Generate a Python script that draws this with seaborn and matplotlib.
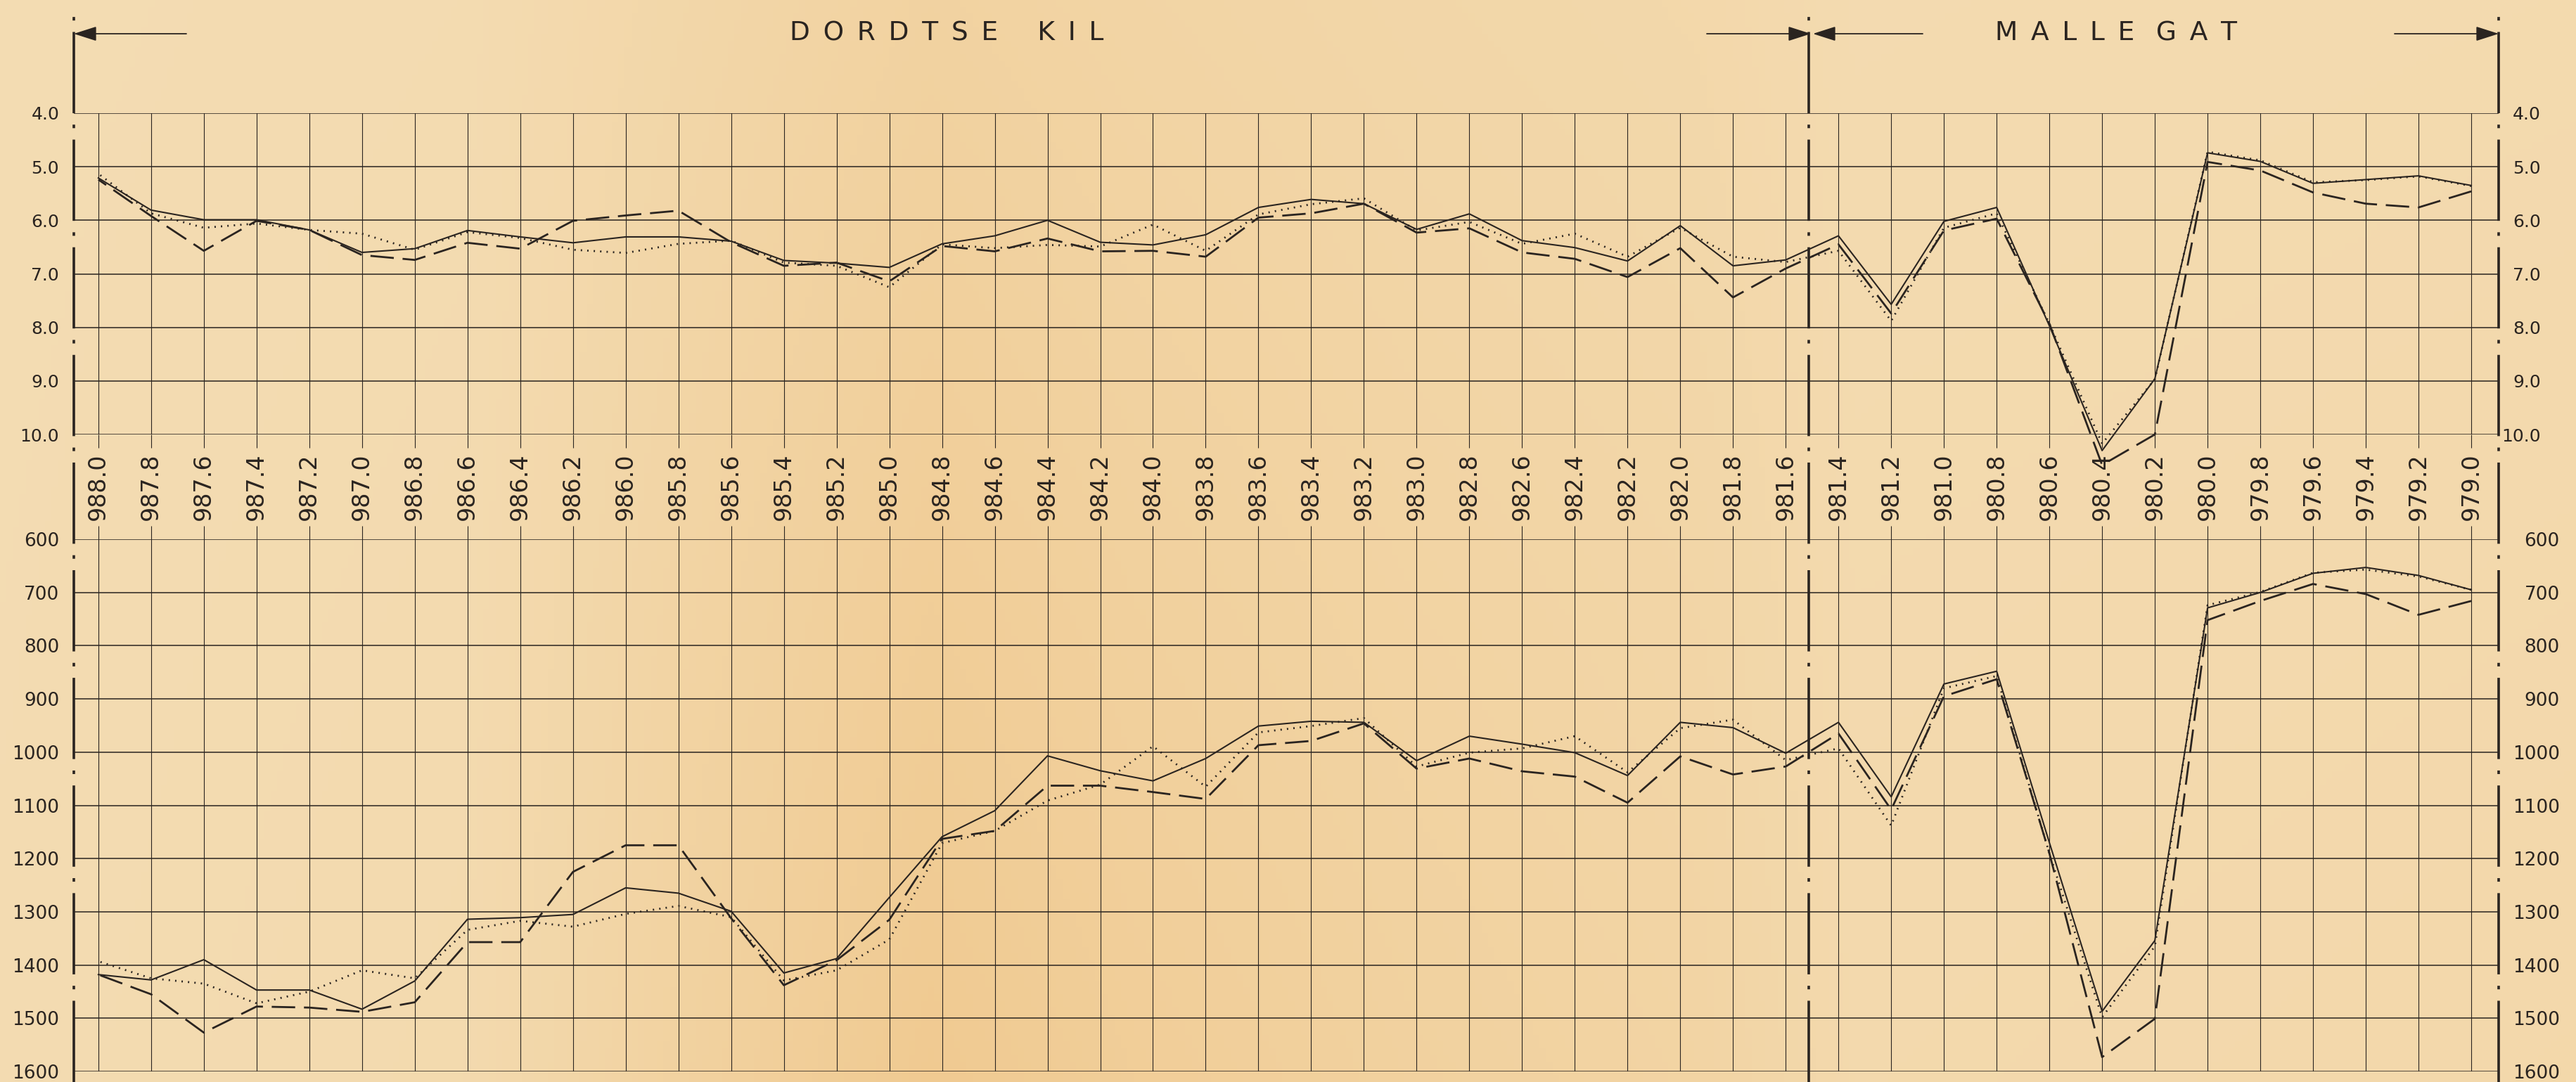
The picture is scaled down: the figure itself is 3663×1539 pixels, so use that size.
import numpy as np
import pandas as pd
import matplotlib
matplotlib.use("Agg")
import matplotlib.pyplot as plt
from matplotlib.lines import Line2D
from matplotlib.transforms import blended_transform_factory
import seaborn as sns

# river km (Dordtse Kil -> Mallegat)
km = [988.0, 987.8, 987.6, 987.4, 987.2, 987.0, 986.8, 986.6, 986.4, 986.2,
      986.0, 985.8, 985.6, 985.4, 985.2, 985.0, 984.8, 984.6, 984.4, 984.2,
      984.0, 983.8, 983.6, 983.4, 983.2, 983.0, 982.8, 982.6, 982.4, 982.2,
      982.0, 981.8, 981.6, 981.4, 981.2, 981.0, 980.8, 980.6, 980.4, 980.2,
      980.0, 979.8, 979.6, 979.4, 979.2, 979.0]
km_labels = ["988.0", "987.8", "987.6", "987.4", "987.2", "987.0", "986.8", "986.6", "986.4", "986.2",
             "986.0", "985.8", "985.6", "985.4", "985.2", "985.0", "984.8", "984.6", "984.4", "984.2",
             "984.0", "983.8", "983.6", "983.4", "983.2", "983.0", "982.8", "982.6", "982.4", "982.2",
             "982.0", "981.8", "981.6", "981.4", "981.2", "981.0", "980.8", "980.6", "980.4", "980.2",
             "980.0", "979.8", "979.6", "979.4", "979.2", "979.0"]

# upper panel (depth)
depth_solid = [5.21, 5.81, 5.99, 5.99, 6.18, 6.60, 6.53, 6.19, 6.31, 6.42,
               6.31, 6.31, 6.39, 6.75, 6.80, 6.88, 6.44, 6.29, 6.00, 6.41,
               6.46, 6.27, 5.76, 5.61, 5.69, 6.17, 5.88, 6.38, 6.51, 6.76,
               6.10, 6.85, 6.74, 6.29, 7.57, 6.02, 5.76, 7.97, 10.30, 8.96,
               4.74, 4.90, 5.31, 5.24, 5.17, 5.35]
depth_dashed = [5.24, 5.92, 6.57, 6.01, 6.18, 6.65, 6.74, 6.42, 6.53, 6.01,
                5.91, 5.82, 6.41, 6.85, 6.79, 7.14, 6.48, 6.58, 6.34, 6.58,
                6.57, 6.68, 5.95, 5.87, 5.69, 6.23, 6.15, 6.60, 6.72, 7.06,
                6.52, 7.44, 6.90, 6.45, 7.74, 6.19, 5.97, 7.93, 10.57, 10.00,
                4.91, 5.07, 5.48, 5.69, 5.76, 5.46]
depth_dotted = [5.13, 5.87, 6.14, 6.06, 6.18, 6.25, 6.55, 6.22, 6.33, 6.55,
                6.61, 6.44, 6.38, 6.79, 6.85, 7.25, 6.45, 6.52, 6.46, 6.49,
                6.08, 6.57, 5.89, 5.70, 5.59, 6.19, 6.03, 6.44, 6.25, 6.68,
                6.14, 6.68, 6.78, 6.57, 7.88, 6.14, 5.87, 7.93, 10.17, 8.97,
                4.72, 4.88, 5.29, 5.25, 5.18, 5.36]

# lower panel
area_solid = [1418, 1428, 1390, 1447, 1447, 1483, 1430, 1314, 1311, 1305,
              1255, 1265, 1299, 1415, 1388, 1273, 1159, 1110, 1007, 1035,
              1054, 1012, 951, 942, 944, 1016, 970, 985, 1001, 1044,
              944, 954, 1002, 944, 1084, 872, 848, 1170, 1487, 1354,
              729, 700, 664, 653, 668, 695]
area_dashed = [1418, 1455, 1527, 1478, 1480, 1488, 1470, 1357, 1357, 1225,
               1175, 1175, 1312, 1438, 1391, 1315, 1163, 1148, 1063, 1063,
               1075, 1088, 987, 979, 946, 1031, 1012, 1036, 1046, 1095,
               1008, 1042, 1027, 965, 1108, 895, 863, 1190, 1573, 1501,
               752, 716, 684, 703, 742, 716]
area_dotted = [1393, 1425, 1435, 1472, 1450, 1410, 1425, 1334, 1317, 1328,
               1304, 1289, 1310, 1429, 1410, 1352, 1171, 1148, 1091, 1061,
               989, 1065, 963, 951, 936, 1027, 1001, 993, 970, 1038,
               955, 939, 1015, 993, 1138, 880, 857, 1190, 1498, 1365,
               724, 699, 663, 657, 670, 695]

depth_ticks = [4, 5, 6, 7, 8, 9, 10]
depth_ticklabels = ["4.0", "5.0", "6.0", "7.0", "8.0", "9.0", "10.0"]
area_ticks = [600, 700, 800, 900, 1000, 1100, 1200, 1300, 1400, 1500, 1600]
area_ticklabels = ["600", "700", "800", "900", "1000", "1100", "1200", "1300", "1400", "1500", "1600"]

EN = "\u2002"
sections = [EN.join("DORDTSE") + EN * 3 + EN.join("KIL"),
            EN.join("MALLE") + EN + " " + EN.join("GAT")]
divider_km = 981.513
x_left, x_right = 988.093, 978.896

ink = "#2a2420"
paper_light = np.array([244, 221, 180]) / 255
paper_warm = np.array([239, 196, 134]) / 255

W, H = 3663, 1539


def rect(x0, y0, x1, y1):
    # pixel box (origin top-left) -> figure fraction rect
    return [x0 / W, 1 - y1 / H, (x1 - x0) / W, (y1 - y0) / H]


fig = plt.figure(figsize=(W / 100, H / 100), dpi=100)

# aged paper: warmer band in the middle, a bit stronger towards the bottom
gx = np.linspace(0, 1, 400)
gy = np.linspace(0, 1, 160)
wx = np.interp(gx, [0, 0.18, 0.27, 0.36, 0.44, 0.55, 0.66, 0.72, 1],
               [0.05, 0.12, 0.45, 0.75, 0.6, 0.45, 0.35, 0.15, 0.2])
wy = np.interp(gy, [0, 1], [0.55, 1.0])
wgt = (wy[:, None] * wx[None, :])[..., None]
paper_img = paper_light * (1 - wgt) + paper_warm * wgt

bg = fig.add_axes([0, 0, 1, 1])
bg.imshow(paper_img, aspect="auto", extent=[0, 1, 0, 1], origin="upper")
bg.axis("off")

X0, X1 = 105, 3553
ax_top = fig.add_axes(rect(X0, 161, X1, 618))
ax_mid = fig.add_axes(rect(X0, 618, X1, 767))
ax_bot = fig.add_axes(rect(X0, 767, X1, 1524))

top_df = pd.DataFrame({"km": km, "solid": depth_solid, "dashed": depth_dashed, "dotted": depth_dotted})
bot_df = pd.DataFrame({"km": km, "solid": area_solid, "dashed": area_dashed, "dotted": area_dotted})

for ax, df in [(ax_top, top_df), (ax_bot, bot_df)]:
    sns.lineplot(data=df, x="km", y="solid", ax=ax, color=ink, linewidth=1.5, errorbar=None)
    sns.lineplot(data=df, x="km", y="dashed", ax=ax, color=ink, linewidth=2.0,
                 linestyle=(0, (12, 4.5)), errorbar=None)
    sns.lineplot(data=df, x="km", y="dotted", ax=ax, color=ink, linewidth=2.0,
                 linestyle=(0, (0.7, 2.6)), errorbar=None)
    for ln in ax.lines:
        ln.set_clip_on(False)
    ax.set_xlabel("")
    ax.set_ylabel("")

for ax in (ax_top, ax_mid, ax_bot):
    ax.set_facecolor("none")
    ax.set_xlim(x_left, x_right)
    for s in ax.spines.values():
        s.set_visible(False)
    ax.set_xticks(km)
    ax.tick_params(length=0, labelbottom=False)

for ax in (ax_top, ax_bot):
    ax.grid(axis="x", color=ink, linewidth=0.8)
    ax.grid(axis="y", color=ink, linewidth=1.1)
    ax.set_axisbelow(True)

ax_top.set_ylim(10, 4)
ax_top.set_yticks(depth_ticks)
ax_top.set_yticklabels(depth_ticklabels)
ax_bot.set_ylim(1600, 600)
ax_bot.set_yticks(area_ticks)
ax_bot.set_yticklabels(area_ticklabels)

for ax, fs, rpad in [(ax_top, 18, 60), (ax_bot, 19, 87)]:
    ax.tick_params(axis="y", labelleft=True, labelright=True, labelsize=fs,
                   labelcolor=ink, pad=15)
    for t in ax.yaxis.get_major_ticks():
        t.label2.set_horizontalalignment("right")
        t.label2.set_x(1 + (rpad - 21) / (X1 - X0))

# km labels in the strip between the panels
ax_mid.set_ylim(0, 1)
ax_mid.set_yticks([])
ax_mid.vlines(km, 0, 0.13, color=ink, linewidth=0.8)
ax_mid.vlines(km, 0.87, 1, color=ink, linewidth=0.8)
for k, lab in zip(km, km_labels):
    ax_mid.text(k, 0.5, lab, rotation=90, ha="center", va="center",
                fontsize=24, color=ink)

# section borders (dash-dot)
trans = blended_transform_factory(ax_top.transData, fig.transFigure)
border_ls = (0, (32, 4.5, 1.4, 4.5))
for xb, ytop in [(x_left, 8), (divider_km, 18), (x_right, 12)]:
    fig.add_artist(Line2D([xb, xb], [0, 1 - ytop / H], transform=trans, color=ink,
                          linewidth=2.6, linestyle=border_ls))

# section arrows and titles
arrow_y = 1 - 48 / H
for xs, xe in [(265, 105), (2427, 2575), (2734, 2578), (3405, 3553)]:
    bg.annotate("", xy=(xe / W, arrow_y), xytext=(xs / W, arrow_y),
                xycoords="figure fraction", textcoords="figure fraction",
                arrowprops=dict(arrowstyle="-|>,head_length=0.5,head_width=0.16",
                                mutation_scale=40, color=ink, lw=1.3,
                                shrinkA=0, shrinkB=0))

fig.text(1346 / W, 1 - 47 / H, sections[0], ha="center", va="center", fontsize=27, color=ink)
fig.text(3009 / W, 1 - 47 / H, sections[1], ha="center", va="center", fontsize=27, color=ink)

fig.savefig("out.png", dpi=100)
